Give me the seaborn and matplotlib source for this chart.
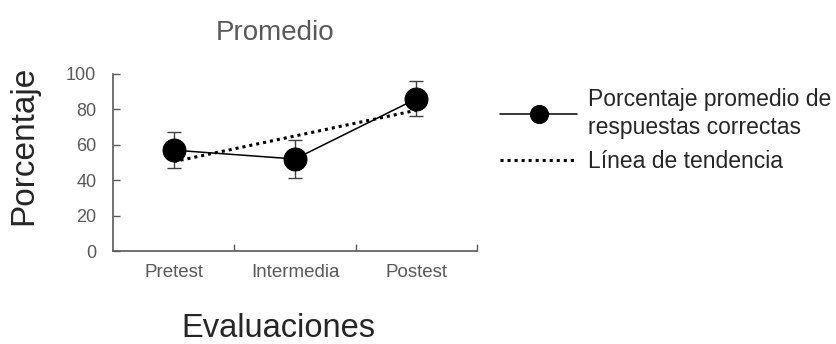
import numpy as np
import pandas as pd
import matplotlib
matplotlib.use("Agg")
import matplotlib.pyplot as plt
import seaborn as sns

# Data
categorias = ["Pretest", "Intermedia", "Postest"]
promedio = [57, 52, 86]
error = [10, 10.5, 10]

sns.set_theme(style="white")
plt.rcParams["font.family"] = ["Liberation Sans", "DejaVu Sans"]

df = pd.DataFrame({"pos": np.arange(len(categorias)), "Evaluacion": categorias,
                   "Porcentaje": promedio, "err": error})

fig = plt.figure(figsize=(8.37, 3.44), dpi=100)
ax = fig.add_axes([0.135, 0.27, 0.435, 0.515])

# Linear trend line over the category positions
coef = np.polyfit(df["pos"], df["Porcentaje"], 1)
tendencia = np.polyval(coef, df["pos"])
sns.lineplot(x=df["pos"], y=tendencia, ax=ax, color="black", lw=2.2,
             linestyle=(0, (1, 1.3)), label="Línea de tendencia", zorder=2)

ax.errorbar(df["pos"], df["Porcentaje"], yerr=df["err"], fmt="none",
            ecolor="#404040", elinewidth=1, capsize=5, capthick=1, zorder=1)
sns.lineplot(data=df, x="pos", y="Porcentaje", ax=ax, color="black", lw=1.1,
             marker="o", markersize=16.5, markeredgecolor="black",
             label="Porcentaje promedio de\nrespuestas correctas", zorder=3)

ax.set_xlim(-0.5, 2.5)
ax.set_ylim(0, 100)
ax.set_yticks([0, 20, 40, 60, 80, 100])
ax.set_xticks(df["pos"])
ax.set_xticklabels(categorias, fontsize=13.5, color="#595959")
ax.set_xticks([0.5, 1.5, 2.5], minor=True)
ax.tick_params(axis="x", which="major", length=0, pad=9)
ax.tick_params(axis="x", which="minor", length=5, width=1, color="#595959", direction="in")
ax.tick_params(axis="y", length=5, width=1, color="#595959", direction="in",
               labelsize=13, labelcolor="#595959", pad=12)
ax.yaxis.set_ticks_position("left")
ax.xaxis.set_ticks_position("bottom")
for s in ["top", "right"]:
    ax.spines[s].set_visible(False)
for s in ["left", "bottom"]:
    ax.spines[s].set_color("#595959")
    ax.spines[s].set_linewidth(1.2)

ax.set_xlabel("")
ax.set_ylabel("")
fig.text(0.028, 0.576, "Porcentaje", rotation=90, fontsize=24, ha="center", va="center")
fig.text(0.332, 0.045, "Evaluaciones", fontsize=23.5, ha="center", va="center")
fig.text(0.329, 0.905, "Promedio", fontsize=20, ha="center", va="center", color="#595959")

handles, labels = ax.get_legend_handles_labels()
ax.get_legend().remove()
order = [1, 0]
leg = fig.legend([handles[i] for i in order], [labels[i] for i in order],
                 loc="upper left", bbox_to_anchor=(0.587, 0.772), frameon=False,
                 fontsize=16.5, handlelength=3.35, handletextpad=0.45,
                 labelspacing=0.5, borderaxespad=0)
leg.get_texts()[0].set_linespacing(1.3)
for h in leg.legend_handles:
    if h.get_marker() == "o":
        h.set_markersize(13)

fig.savefig("out.png", dpi=100)
